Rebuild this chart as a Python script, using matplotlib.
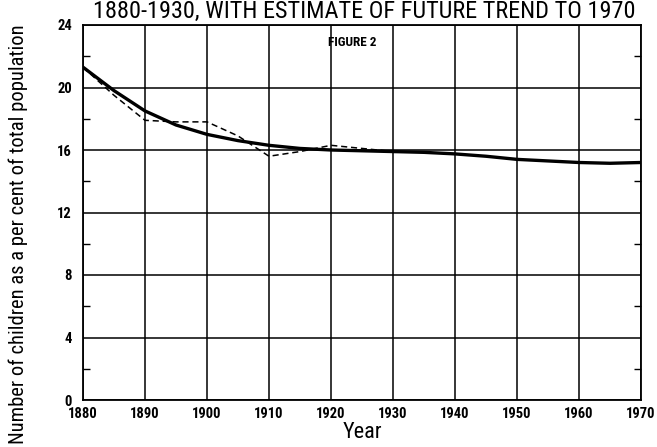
import matplotlib
matplotlib.use("Agg")
import matplotlib.pyplot as plt
from matplotlib.ticker import MultipleLocator

FAM = ["Roboto Condensed", "DejaVu Sans"]

trend_years = [1880, 1885, 1890, 1895, 1900, 1905, 1910, 1915, 1920, 1925, 1930,
               1935, 1940, 1945, 1950, 1955, 1960, 1965, 1970]
trend_vals = [21.3, 19.8, 18.5, 17.6, 17.0, 16.6, 16.3, 16.1, 16.0, 15.95, 15.9,
              15.85, 15.75, 15.6, 15.4, 15.3, 15.2, 15.15, 15.2]

actual_years = [1880, 1885, 1890, 1895, 1900, 1905, 1910, 1915, 1920, 1925, 1930]
actual_vals = [21.3, 19.5, 17.9, 17.8, 17.8, 16.9, 15.6, 15.9, 16.3, 16.1, 15.9]

x_ticks = [1880, 1890, 1900, 1910, 1920, 1930, 1940, 1950, 1960, 1970]
y_ticks = [0, 4, 8, 12, 16, 20, 24]

fig = plt.figure(figsize=(6.57, 4.47), dpi=100)
ax = fig.add_axes([83/657, 1-400/447, (641-83)/657, (400-25)/447])

ax.set_xlim(1880, 1970)
ax.set_ylim(0, 24)
ax.set_xticks(x_ticks)
ax.set_yticks(y_ticks)
ax.yaxis.set_minor_locator(MultipleLocator(2))
ax.grid(True, which="major", color="black", linewidth=1.1)
ax.set_axisbelow(True)
for s in ax.spines.values():
    s.set_linewidth(1.3)

ax.plot(trend_years, trend_vals, color="black", linewidth=2.4, solid_capstyle="round")
ax.plot(actual_years, actual_vals, color="black", linewidth=1.1, linestyle=(0, (4, 2.5)))

ax.tick_params(axis="x", which="both", length=0, pad=5)
ax.tick_params(axis="y", which="major", length=0, pad=8)
ax.tick_params(axis="y", which="minor", direction="in", length=5, width=1, left=True, right=True)
for lab in ax.get_xticklabels() + ax.get_yticklabels():
    lab.set_fontfamily(FAM)
    lab.set_fontweight("bold")
    lab.set_fontsize(10.5)

ax.set_xlabel("Year", fontsize=16, family=FAM, labelpad=1)
fig.text(0.028, 0.476, "Number of children as a per cent of total population", rotation=90,
         ha="center", va="center", fontsize=14.8, family=FAM)
ax.text(1923.4, 22.9, "FIGURE 2", ha="center", va="center", fontsize=9.5,
        fontweight="bold", family=FAM)
fig.text(0.555, 1.0, "1880-1930, WITH ESTIMATE OF FUTURE TREND TO 1970", ha="center",
         va="top", fontsize=17.5, family=FAM)

fig.savefig("out.png", dpi=100)
